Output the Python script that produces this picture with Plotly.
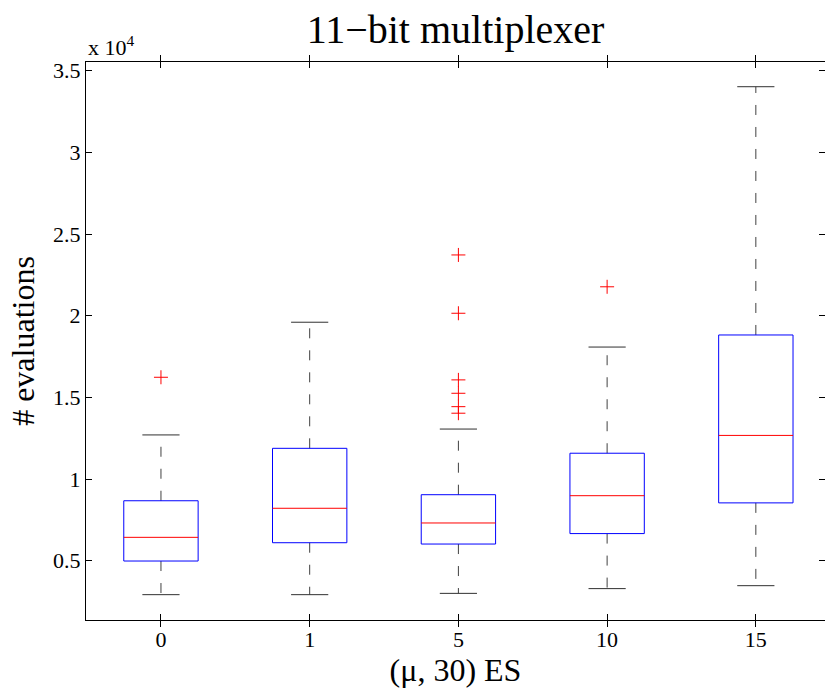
import plotly.graph_objects as go

# ---- data (values in raw evaluations) ----
groups = ["0", "1", "5", "10", "15"]
lower_whisker = [2920, 2920, 3000, 3290, 3470]
q1 = [4980, 6100, 6020, 6660, 8540]
median = [6430, 8210, 7310, 8980, 12670]
q3 = [8670, 11880, 9040, 11580, 18820]
upper_whisker = [12700, 19600, 13060, 18080, 34020]
outliers = [[16230], [], [23720, 20150, 16070, 15250, 14430, 14030], [21770], []]

ytick_vals = [5000, 10000, 15000, 20000, 25000, 30000, 35000]
ytick_text = ["0.5", "1", "1.5", "2", "2.5", "3", "3.5"]

FONT = "'Liberation Serif', 'Times New Roman', Times, serif"
BOX_HW = 0.25
CAP_HW = 0.125

box_x, box_y = [], []
med_x, med_y = [], []
wh_x, wh_y = [], []
cap_x, cap_y = [], []
out_x, out_y = [], []
for i in range(len(groups)):
    box_x += [i - BOX_HW, i + BOX_HW, i + BOX_HW, i - BOX_HW, i - BOX_HW, None]
    box_y += [q1[i], q1[i], q3[i], q3[i], q1[i], None]
    med_x += [i - BOX_HW, i + BOX_HW, None]
    med_y += [median[i], median[i], None]
    wh_x += [i, i, None, i, i, None]
    wh_y += [q3[i], upper_whisker[i], None, q1[i], lower_whisker[i], None]
    cap_x += [i - CAP_HW, i + CAP_HW, None, i - CAP_HW, i + CAP_HW, None]
    cap_y += [upper_whisker[i], upper_whisker[i], None, lower_whisker[i], lower_whisker[i], None]
    for o in outliers[i]:
        out_x.append(i)
        out_y.append(o)

fig = go.Figure()
fig.add_trace(go.Scatter(x=wh_x, y=wh_y, mode="lines",
                         line=dict(color="#404040", width=1, dash="10px,12px"),
                         hoverinfo="skip", showlegend=False))
fig.add_trace(go.Scatter(x=cap_x, y=cap_y, mode="lines",
                         line=dict(color="#303030", width=1),
                         hoverinfo="skip", showlegend=False))
fig.add_trace(go.Scatter(x=box_x, y=box_y, mode="lines",
                         line=dict(color="#0000ff", width=1),
                         hoverinfo="skip", showlegend=False))
fig.add_trace(go.Scatter(x=med_x, y=med_y, mode="lines",
                         line=dict(color="#ff0000", width=1),
                         hoverinfo="skip", showlegend=False))
fig.add_trace(go.Scatter(x=out_x, y=out_y, mode="markers",
                         marker=dict(symbol="cross-thin", size=10,
                                     line=dict(color="#ff0000", width=1)),
                         hoverinfo="skip", showlegend=False))
# invisible trace to host right-side mirrored ticks
fig.add_trace(go.Scatter(x=[0], y=[20000], yaxis="y2", mode="markers",
                         marker=dict(opacity=0), showlegend=False,
                         hoverinfo="skip"))

yrange = [1369, 35533]

fig.update_layout(
    width=825, height=690,
    margin=dict(l=86, r=0, t=62, b=70),
    paper_bgcolor="white", plot_bgcolor="white",
    font=dict(family=FONT, size=22, color="black"),
    title=dict(text="11\u2212bit multiplexer", x=0.5, xref="paper",
               y=1 - 29 / 690, yref="container", yanchor="middle",
               xanchor="center", font=dict(family=FONT, size=40, color="black")),
    xaxis=dict(range=[-0.504, 4.465], tickmode="array",
               tickvals=list(range(len(groups))), ticktext=groups,
               ticks="inside", ticklen=6, tickcolor="black", tickwidth=1,
               showline=True, linecolor="black", linewidth=1, mirror="allticks",
               showgrid=False, zeroline=False,
               title=dict(text="(\u03bc, 30) ES", font=dict(family=FONT, size=32),
                          standoff=0),
               tickfont=dict(family=FONT, size=22)),
    yaxis=dict(range=yrange, tickmode="array", tickvals=ytick_vals,
               ticktext=ytick_text, ticks="inside", ticklen=6,
               tickcolor="black", tickwidth=1,
               showline=True, linecolor="black", linewidth=1, mirror=False,
               showgrid=False, zeroline=False,
               title=dict(text="# evaluations", font=dict(family=FONT, size=32),
                          standoff=8),
               tickfont=dict(family=FONT, size=22)),
    yaxis2=dict(range=yrange, overlaying="y", side="right", tickmode="array",
                tickvals=ytick_vals, showticklabels=False, ticks="inside",
                ticklen=6, tickcolor="black", showline=False, showgrid=False,
                zeroline=False),
    annotations=[dict(text="x 10<sup>4</sup>", xref="paper", yref="paper",
                      x=0, y=1, xanchor="left", yanchor="bottom", yshift=0,
                      showarrow=False, font=dict(family=FONT, size=22, color="black"))],
)

fig.write_html("out.html")
